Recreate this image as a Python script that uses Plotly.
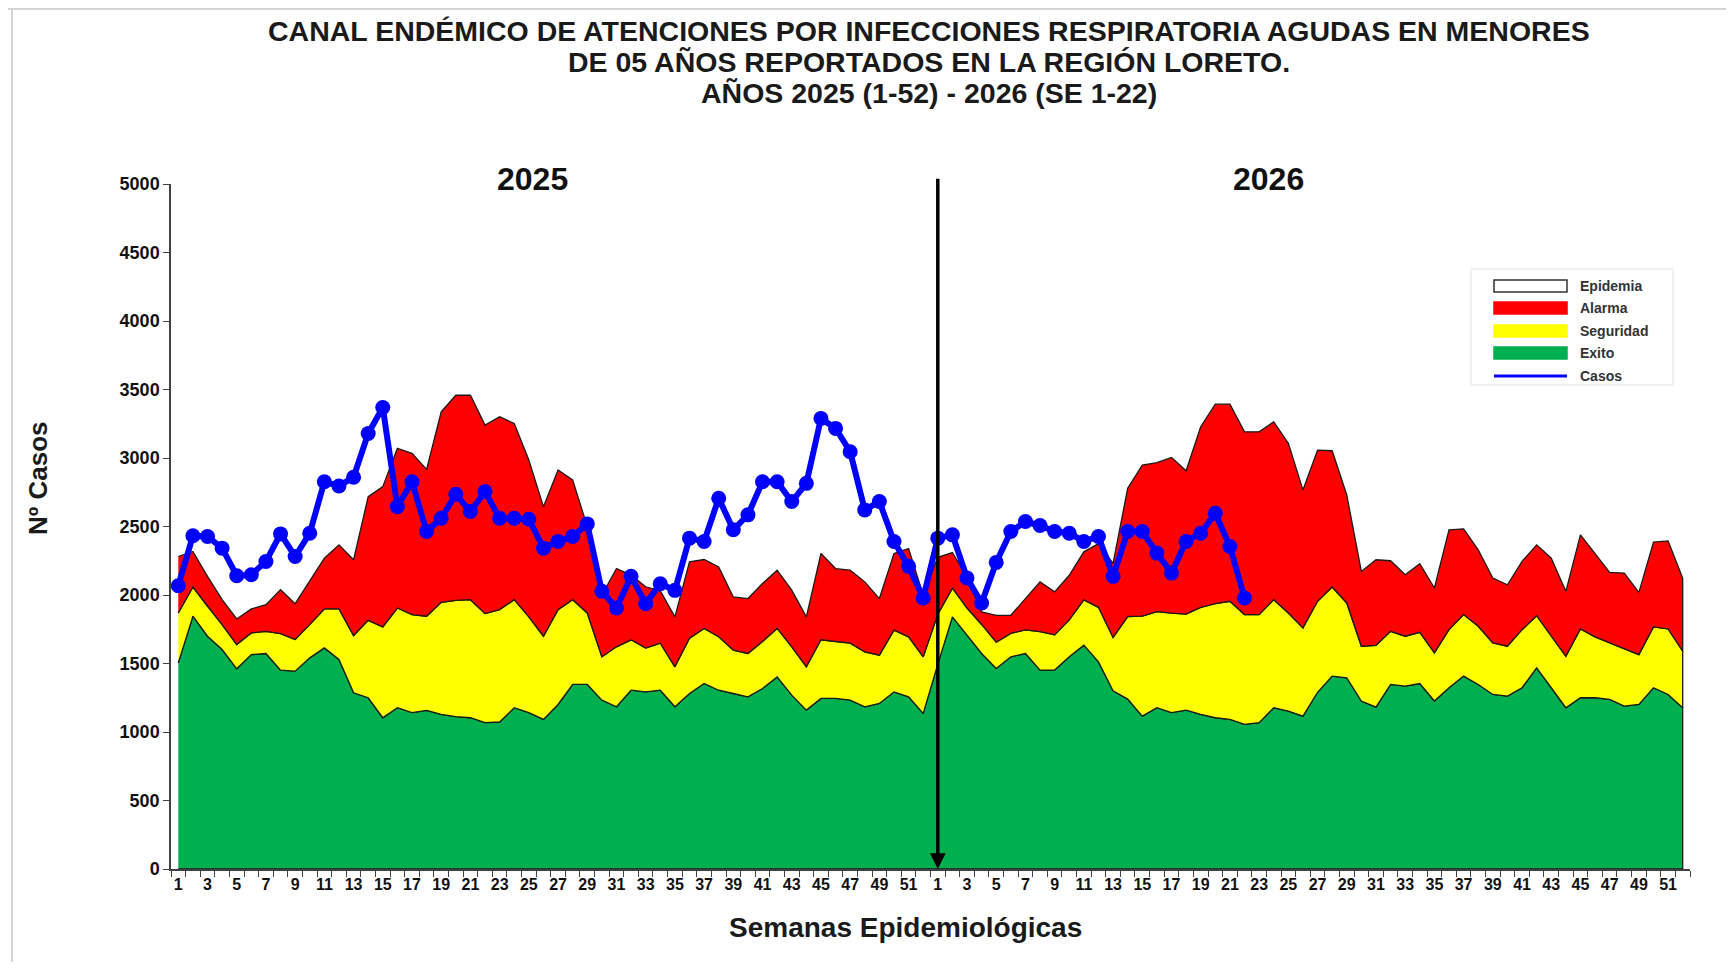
import plotly.graph_objects as go

# ---------------- data ----------------
week_labels_2025 = list(range(1, 53))
week_labels_2026 = list(range(1, 53))

# Upper limits of each endemic-channel zone
exito_2025 = [1505, 1845, 1699, 1602, 1461, 1565, 1573, 1451, 1444, 1541,
              1614, 1529, 1286, 1250, 1104, 1177, 1141, 1158, 1129, 1112,
              1104, 1068, 1073, 1177, 1141, 1092, 1201, 1347, 1347, 1233,
              1184, 1305, 1293, 1305, 1184, 1281, 1354, 1305, 1281, 1257,
              1317, 1402, 1269, 1160, 1245, 1245, 1233, 1184, 1208, 1293,
              1257, 1136]
seguridad_2025 = [1869, 2058, 1917, 1784, 1638, 1723, 1735, 1718, 1675, 1784,
                  1898, 1898, 1704, 1815, 1767, 1905, 1857, 1845, 1946, 1961,
                  1966, 1864, 1893, 1966, 1840, 1699, 1893, 1966, 1869, 1549,
                  1622, 1673, 1612, 1648, 1476, 1685, 1756, 1695, 1597, 1573,
                  1660, 1756, 1622, 1476, 1673, 1660, 1648, 1585, 1561, 1744,
                  1695, 1549]
alarma_2025 = [2281, 2318, 2136, 1966, 1825, 1898, 1929, 2039, 1937, 2099,
               2269, 2366, 2257, 2718, 2791, 3070, 3034, 2917, 3337, 3458,
               3458, 3240, 3301, 3252, 2985, 2645, 2912, 2840, 2500, 2000,
               2193, 2145, 2060, 2030, 1840, 2242, 2259, 2205, 1986, 1974,
               2084, 2181, 2035, 1840, 2303, 2193, 2181, 2096, 1974, 2303,
               2339, 2000]

exito_2026 = [1495, 1840, 1707, 1573, 1464, 1549, 1573, 1452, 1452, 1549,
              1634, 1512, 1300, 1240, 1116, 1177, 1141, 1160, 1129, 1104,
              1092, 1056, 1068, 1177, 1153, 1116, 1290, 1408, 1396, 1226,
              1182, 1347, 1335, 1354, 1226, 1323, 1408, 1347, 1274, 1262,
              1323, 1468, 1323, 1177, 1250, 1250, 1238, 1189, 1201, 1323,
              1274, 1177]
seguridad_2026 = [1860, 2050, 1905, 1785, 1655, 1720, 1745, 1733, 1709, 1818,
                  1964, 1910, 1690, 1843, 1846, 1879, 1867, 1861, 1909, 1937,
                  1954, 1857, 1857, 1966, 1869, 1760, 1954, 2058, 1942, 1626,
                  1633, 1735, 1699, 1728, 1578, 1747, 1857, 1772, 1650, 1626,
                  1747, 1849, 1699, 1553, 1752, 1694, 1650, 1607, 1565, 1767,
                  1752, 1590]
alarma_2026 = [2275, 2310, 2130, 1877, 1852, 1852, 1974, 2096, 2023, 2144,
               2315, 2375, 2230, 2779, 2949, 2966, 3004, 2907, 3228, 3393,
               3393, 3191, 3191, 3264, 3107, 2767, 3058, 3053, 2730, 2172,
               2257, 2250, 2148, 2228, 2051, 2476, 2483, 2330, 2124, 2075,
               2245, 2366, 2269, 2027, 2439, 2306, 2165, 2160, 2019, 2386,
               2395, 2124]

casos_2025 = [2068, 2432, 2427, 2342, 2141, 2148, 2245, 2446, 2281, 2451,
              2827, 2796, 2859, 3179, 3369, 2645, 2827, 2463, 2560, 2735,
              2609, 2755, 2560, 2560, 2553, 2342, 2391, 2427, 2519, 2027,
              1905, 2136, 1937, 2082, 2034, 2415, 2391, 2706, 2476, 2585,
              2827, 2827, 2682, 2815, 3289, 3216, 3046, 2621, 2682, 2391,
              2209, 1978]
casos_2026 = [2415, 2439, 2124, 1942, 2238, 2463, 2536, 2507, 2463, 2451,
              2391, 2427, 2136, 2463, 2463, 2306, 2160, 2391, 2451, 2597,
              2354, 1978]

years = ["2025", "2026"]
y_ticks = list(range(0, 5001, 500))
title_lines = ["CANAL ENDÉMICO DE ATENCIONES POR INFECCIONES RESPIRATORIA AGUDAS EN MENORES",
               "DE 05 AÑOS REPORTADOS EN LA REGIÓN LORETO.",
               "AÑOS 2025 (1-52) - 2026 (SE 1-22)"]
legend_names = ["Epidemia", "Alarma", "Seguridad", "Exito", "Casos"]

# ---------------- derived series ----------------
labels = week_labels_2025 + week_labels_2026
n = len(labels)
xs = list(range(1, n + 1))
exito = exito_2025 + exito_2026
seguridad = seguridad_2025 + seguridad_2026
alarma = alarma_2025 + alarma_2026
casos = casos_2025 + casos_2026
x_casos = xs[:len(casos)]
zeros = [0] * n

FONT = "Liberation Sans, Arial, sans-serif"
EDGE = "#1a1a1a"
C_EXITO, C_SEG, C_ALA, C_CASOS = "#00B050", "#FFFF00", "#FF0000", "#0000FF"

fig = go.Figure()


def band(lower, upper, color, name):
    fig.add_trace(go.Scatter(
        x=xs + xs[::-1], y=upper + lower[::-1], mode="lines",
        fill="toself", fillcolor=color,
        line=dict(color=EDGE, width=1.3),
        name=name, showlegend=False, hoverinfo="skip"))


band(zeros, exito, C_EXITO, "Exito")
band(exito, seguridad, C_SEG, "Seguridad")
band(seguridad, alarma, C_ALA, "Alarma")

fig.add_trace(go.Scatter(
    x=x_casos, y=casos, mode="lines+markers", name="Casos",
    line=dict(color=C_CASOS, width=6),
    marker=dict(color=C_CASOS, size=15, line=dict(width=0)),
    showlegend=False))

# ---------------- layout geometry ----------------
# the page adds an 8px body margin; work in page pixels and convert
OFF = 8
PAGE_W, PAGE_H = 1734, 970
W, H = PAGE_W - 2 * OFF, PAGE_H - 2 * OFF
P_LEFT, P_RIGHT, P_TOP, P_BOTTOM = 171, 1690, 184, 869   # plot area in page px
ML, MT = P_LEFT - OFF, P_TOP - OFF
MR, MB = W - (P_RIGHT - OFF), H - (P_BOTTOM - OFF)
PW, PH = P_RIGHT - P_LEFT, P_BOTTOM - P_TOP


def px(xp):
    return (xp - P_LEFT) / PW


def py(yp):
    return (P_BOTTOM - yp) / PH


tickvals = [x for x, lab in zip(xs, labels) if lab % 2 == 1]
ticktext = [str(lab) for lab in labels if lab % 2 == 1]

annotations = []
shapes = []

# title (three centred lines)
for line, yc in zip(title_lines, [31, 62, 93]):
    annotations.append(dict(
        x=px(929), y=py(yc), xref="paper", yref="paper", text="<b>%s</b>" % line,
        showarrow=False, xanchor="center", yanchor="middle",
        font=dict(family=FONT, size=28.5, color="#1a1a1a")))

# vertical separator with arrow at week 1 of 2026
annotations.append(dict(
    x=53, y=0, ax=53, ay=5050, xref="x", yref="y", axref="x", ayref="y",
    text="", showarrow=True, arrowhead=2, arrowsize=0.9, arrowwidth=3.5,
    arrowcolor="black", standoff=0, startstandoff=0))

# year labels
for yr, xc in zip(years, [532, 1268]):
    annotations.append(dict(
        x=px(xc), y=py(179), xref="paper", yref="paper", text="<b>%s</b>" % yr,
        showarrow=False, xanchor="center", yanchor="middle",
        font=dict(family=FONT, size=32, color="#111")))

# axis titles
annotations.append(dict(
    x=px(905), y=py(927), xref="paper", yref="paper",
    text="<b>Semanas Epidemiológicas</b>", showarrow=False,
    xanchor="center", yanchor="middle",
    font=dict(family=FONT, size=28, color="#1a1a1a")))
annotations.append(dict(
    x=px(38), y=py(478), xref="paper", yref="paper",
    text="<b>Nº Casos</b>", showarrow=False, textangle=-90,
    xanchor="center", yanchor="middle",
    font=dict(family=FONT, size=26, color="#1a1a1a")))

# custom legend
shapes.append(dict(type="rect", xref="paper", yref="paper",
                   x0=px(1471), x1=px(1673), y0=py(385), y1=py(269),
                   line=dict(color="#e3e3e3", width=1), fillcolor="white",
                   layer="above"))
legend_styles = [("white", True), (C_ALA, False), (C_SEG, False),
                 (C_EXITO, False), (C_CASOS, None)]
rows = [286, 308, 331, 353, 376]
for name, (col, border), ry in zip(legend_names, legend_styles, rows):
    if border is None:
        shapes.append(dict(type="line", xref="paper", yref="paper",
                           x0=px(1494), x1=px(1567), y0=py(ry), y1=py(ry),
                           line=dict(color=col, width=3), layer="above"))
    else:
        shapes.append(dict(type="rect", xref="paper", yref="paper",
                           x0=px(1494), x1=px(1567), y0=py(ry + 6), y1=py(ry - 6),
                           fillcolor=col,
                           line=dict(color="#333" if border else col, width=1.5),
                           layer="above"))
    annotations.append(dict(
        x=px(1578), y=py(ry), xref="paper", yref="paper", text="<b>%s</b>" % name,
        showarrow=False, xanchor="left", yanchor="middle",
        font=dict(family=FONT, size=14, color="#333")))

# light frame of the original picture (top and left edges)
shapes.append(dict(type="line", xref="paper", yref="paper",
                   x0=px(OFF), x1=px(PAGE_W), y0=py(9), y1=py(9),
                   line=dict(color="#d4d4d4", width=2)))
shapes.append(dict(type="line", xref="paper", yref="paper",
                   x0=px(12), x1=px(12), y0=py(9), y1=py(PAGE_H - OFF),
                   line=dict(color="#d4d4d4", width=2)))

fig.update_layout(
    width=W, height=H,
    margin=dict(l=ML, r=MR, t=MT, b=MB),
    paper_bgcolor="white", plot_bgcolor="white",
    showlegend=False,
    xaxis=dict(
        range=[0.5, n + 0.5], tickmode="array", tickvals=tickvals, ticktext=ticktext,
        ticks="", showgrid=False, zeroline=False,
        showline=True, linecolor="#404040", linewidth=1.5,
        tickfont=dict(family=FONT, size=16, color="#111", weight="bold"),
        minor=dict(ticks="outside", tick0=0.5, dtick=1, ticklen=6,
                   tickcolor="#404040", tickwidth=1.2, showgrid=False)),
    yaxis=dict(
        range=[0, 5000], tickmode="array", tickvals=y_ticks,
        ticks="outside", ticklen=6, tickcolor="#404040", tickwidth=1.2,
        showgrid=False, zeroline=False,
        showline=True, linecolor="#404040", linewidth=1.5,
        tickfont=dict(family=FONT, size=18, color="#111", weight="bold")),
    annotations=annotations,
    shapes=shapes,
)

fig.write_html("out.html")
